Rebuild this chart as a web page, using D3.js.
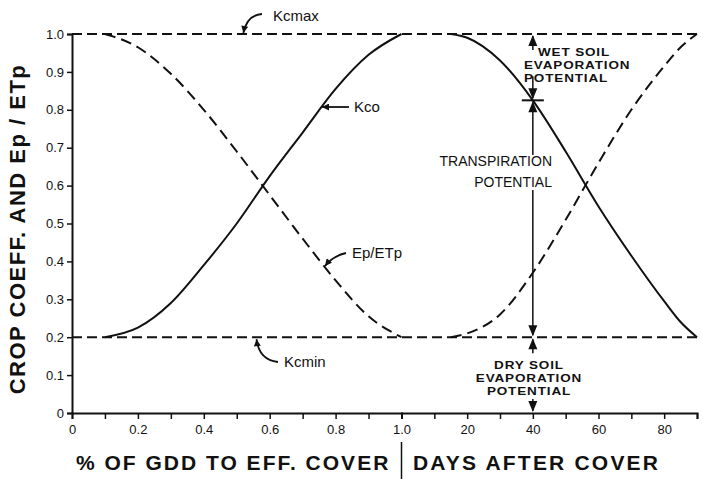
<!DOCTYPE html>
<html>
<head>
<meta charset="utf-8">
<script src="https://cdn.jsdelivr.net/npm/d3@7"></script>
<style>
  html, body { margin: 0; padding: 0; background: #fff; }
  svg { display: block; }
  text { font-family: "Liberation Sans", Arial, Helvetica, sans-serif; fill: #111; }
</style>
</head>
<body>
<svg id="chart" width="703" height="479"></svg>
<script>
// ---- data ----
const gddPts  = [0.1, 0.2, 0.3, 0.4, 0.5, 0.6, 0.7, 0.8, 0.9, 1.0];
const kcoGdd  = [0.20, 0.225, 0.29, 0.39, 0.50, 0.625, 0.74, 0.855, 0.945, 1.00];
const epGdd   = [1.00, 0.965, 0.895, 0.80, 0.69, 0.575, 0.46, 0.35, 0.255, 0.20];
const dayPts  = [15, 20, 30, 40, 50, 60, 70, 80, 85, 90];
const kcoDays = [1.00, 0.99, 0.93, 0.825, 0.69, 0.545, 0.415, 0.295, 0.24, 0.20];
const epDays  = [0.20, 0.21, 0.26, 0.37, 0.51, 0.66, 0.80, 0.915, 0.965, 1.00];
const kcMax = 1.0;
const kcMin = 0.2;
const markDay = 40;
const gddTicks = [0, 0.1, 0.2, 0.3, 0.4, 0.5, 0.6, 0.7, 0.8, 0.9, 1.0];
const gddLabels = ["0", "", "0.2", "", "0.4", "", "0.6", "", "0.8", "", "1.0"];
const dayTicks = [10, 20, 30, 40, 50, 60, 70, 80, 90];
const dayLabels = ["", "20", "", "40", "", "60", "", "80", ""];
const yTicks = [0, 0.1, 0.2, 0.3, 0.4, 0.5, 0.6, 0.7, 0.8, 0.9, 1.0];
const yLabels = ["0", "0.1", "0.2", "0.3", "0.4", "0.5", "0.6", "0.7", "0.8", "0.9", "1.0"];

const svg = d3.select("#chart");
const x0 = 72, xMid = 401.5, xEnd = 697, yTop = 34, yBot = 413;

const xG = d3.scaleLinear().domain([0, 1]).range([x0, xMid]);
const xD = d3.scaleLinear().domain([0, 90]).range([xMid, xEnd]);
const y = d3.scaleLinear().domain([0, 1]).range([yBot, yTop]);

// defs: arrowheads
const defs = svg.append("defs");
defs.append("marker").attr("id", "ah").attr("viewBox", "0 0 10 10")
  .attr("refX", 10).attr("refY", 5).attr("markerWidth", 9).attr("markerHeight", 7)
  .attr("markerUnits", "userSpaceOnUse").attr("orient", "auto")
  .append("path").attr("d", "M0,0 L10,5 L0,10 z").attr("fill", "#111");

// axes
const styleAxis = g => {
  g.select(".domain").attr("stroke", "#111").attr("stroke-width", 2);
  g.selectAll(".tick line").attr("stroke", "#111").attr("stroke-width", 1.5);
  g.selectAll(".tick text").attr("font-size", 13).attr("fill", "#111")
    .attr("font-family", '"Liberation Sans", Arial, sans-serif');
};
svg.append("g").attr("transform", `translate(0,${yBot})`)
  .call(d3.axisBottom(xG).tickValues(gddTicks).tickSize(6).tickPadding(6)
    .tickFormat((d, i) => gddLabels[i]))
  .call(styleAxis);
svg.append("g").attr("transform", `translate(0,${yBot})`)
  .call(d3.axisBottom(xD).tickValues(dayTicks).tickSize(6).tickPadding(6)
    .tickFormat((d, i) => dayLabels[i]))
  .call(styleAxis);
svg.append("g").attr("transform", `translate(${x0},0)`)
  .call(d3.axisLeft(y).tickValues(yTicks).tickSize(5).tickPadding(3)
    .tickFormat((d, i) => yLabels[i]))
  .call(styleAxis);

// reference lines
[kcMax, kcMin].forEach(v => {
  svg.append("line").attr("x1", x0).attr("x2", xEnd + 3)
    .attr("y1", y(v)).attr("y2", y(v))
    .attr("stroke", "#111").attr("stroke-width", 2).attr("stroke-dasharray", "10,5");
});

// curves
const lineG = d3.line().x(d => xG(d[0])).y(d => y(d[1])).curve(d3.curveMonotoneX);
const lineD = d3.line().x(d => xD(d[0])).y(d => y(d[1])).curve(d3.curveMonotoneX);
const drawCurve = (gen, xs, ys, dashed) => {
  svg.append("path").attr("d", gen(xs.map((v, i) => [v, ys[i]])))
    .attr("fill", "none").attr("stroke", "#111").attr("stroke-width", 2)
    .attr("stroke-dasharray", dashed ? "11,6" : null);
};
drawCurve(lineG, gddPts, kcoGdd, false);
drawCurve(lineD, dayPts, kcoDays, false);
drawCurve(lineG, gddPts, epGdd, true);
drawCurve(lineD, dayPts, epDays, true);

// labels with arrows
const lbl = (t, xx, yy, size, opts = {}) => svg.append("text").attr("x", xx).attr("y", yy)
  .attr("font-size", size).attr("text-anchor", opts.anchor || "start")
  .attr("font-weight", opts.bold ? "bold" : "normal")
  .attr("letter-spacing", opts.ls || 0).text(t);
// squat bold labels (wide, short letters as in the original)
const sq = (t, xx, yy, anchor) => svg.append("text")
  .attr("transform", `translate(${xx},${yy}) scale(1.08,0.88)`)
  .attr("font-size", 12.5).attr("font-weight", "bold").attr("letter-spacing", 0.8)
  .attr("text-anchor", anchor || "start").text(t);
const arrow = (d) => svg.append("path").attr("d", d).attr("fill", "none")
  .attr("stroke", "#111").attr("stroke-width", 1.8).attr("marker-end", "url(#ah)");

lbl("Kcmax", 273, 21, 15);
arrow(`M262,14 Q247,15 ${xG(0.52)},${y(kcMax) - 1}`);
lbl("Kco", 354, 112, 15);
arrow("M349,107 L322,107");
lbl("Ep/ETp", 352, 258, 15);
arrow("M346,253 Q333,256 325,266");
lbl("Kcmin", 284, 367, 15);
arrow(`M278,362 Q259,360 ${xG(0.56)},${y(kcMin) + 2}`);

// measurement at day 40
const xm = xD(markDay);
const kcoAt = kcoDays[dayPts.indexOf(markDay)];
const ym = y(kcoAt);
const vline = (y1, y2) => svg.append("line").attr("x1", xm).attr("x2", xm)
  .attr("y1", y1).attr("y2", y2).attr("stroke", "#111").attr("stroke-width", 1.5);
const head = (tipY, dir) => { // dir -1 up, +1 down
  svg.append("path").attr("d",
    `M${xm},${tipY} L${xm - 4.5},${tipY - dir * 11} L${xm + 4.5},${tipY - dir * 11} Z`)
    .attr("fill", "#111");
};
// wet soil
vline(y(kcMax) + 2, y(kcMax) + 16); head(y(kcMax) + 1, -1);
vline(ym - 24, ym - 2); head(ym - 1, 1);
svg.append("line").attr("x1", xm - 11).attr("x2", xm + 11).attr("y1", ym).attr("y2", ym)
  .attr("stroke", "#111").attr("stroke-width", 2);
// transpiration
head(ym + 1, -1);
vline(ym + 2, 155);
vline(190, y(kcMin) - 2);
head(y(kcMin) - 1, 1);
// dry soil
head(y(kcMin) + 1, -1);
vline(y(kcMin) + 2, y(kcMin) + 16);
vline(yBot - 14, yBot - 2); head(yBot - 1, 1);

sq("WET SOIL", 538, 56);
sq("EVAPORATION", 524, 69);
sq("POTENTIAL", 524, 82);
lbl("TRANSPIRATION", 552, 166, 14, {anchor: "end"});
lbl("POTENTIAL", 552, 187, 14, {anchor: "end"});
sq("DRY SOIL", 529, 369, "middle");
sq("EVAPORATION", 529, 382, "middle");
sq("POTENTIAL", 529, 395, "middle");

// axis titles
lbl("% OF GDD TO EFF. COVER", 76, 470, 21, {bold: true, ls: 2});
svg.append("line").attr("x1", xMid).attr("x2", xMid).attr("y1", 442).attr("y2", 479)
  .attr("stroke", "#111").attr("stroke-width", 1.5);
lbl("DAYS AFTER COVER", 413, 470, 21, {bold: true, ls: 2.2});
svg.append("text").attr("transform", "translate(25,229) rotate(-90)")
  .attr("text-anchor", "middle").attr("font-size", 22).attr("font-weight", "bold")
  .attr("letter-spacing", 1.5)
  .text("CROP COEFF. AND Ep / ETp");
</script>
</body>
</html>
